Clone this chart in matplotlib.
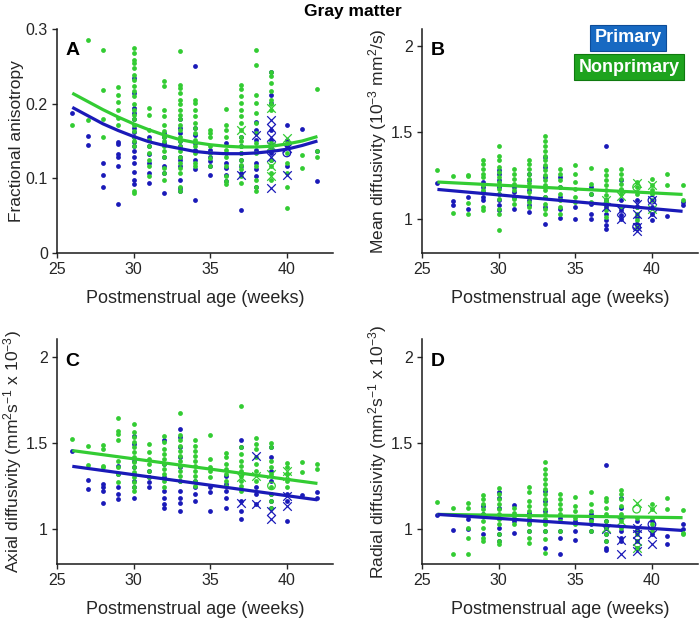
import numpy as np
import matplotlib
matplotlib.use('Agg')
import matplotlib.pyplot as plt

plt.rcParams['font.family'] = ['Liberation Sans', 'DejaVu Sans']
plt.rcParams['mathtext.default'] = 'regular'

BLUE = '#1a1ab8'
GREEN = '#33cc33'
TXT = '#262626'

# ---- data: values per postmenstrual week ----
# Panel A: fractional anisotropy
a_green = {26: [.171], 27: [.285, .178], 28: [.272, .218, .180, .156],
           29: [.222, .212, .202, .191, .181, .171],
           30: [.275, .268, .259, .255, .248, .239, .232, .224, .217, .210, .199, .192, .185, .179, .172, .163, .156, .150, .143, .083, .080],
           31: [.194, .185, .165, .152, .143, .134, .125, .116, .103],
           32: [.231, .223, .192, .183, .172, .163, .156, .150, .143, .136, .129, .114, .107, .098],
           33: [.270, .225, .221, .214, .205, .199, .192, .185, .179, .172, .165, .156, .150, .143, .136, .129, .120, .114, .107, .089, .083],
           34: [.205, .201, .192, .183, .174, .167, .161, .152, .143, .134, .121, .116],
           35: [.165, .161, .156, .143, .134, .127, .116],
           36: [.193, .172, .165, .156, .138, .129, .116, .103, .096, .092],
           37: [.225, .219, .210, .201, .192, .183, .174, .165, .156, .150, .143, .134, .125, .118, .112, .103, .094],
           38: [.272, .252, .212, .201, .188, .174, .161, .147, .134, .116, .098, .089, .083],
           39: [.243, .237, .228, .217, .205, .199, .192, .147, .138, .125, .116, .107, .098],
           40: [.147, .134, .121, .107, .089, .060], 41: [.131, .114], 42: [.220, .136, .129]}
a_blue = {26: [.187], 27: [.157, .144], 28: [.120, .104, .088],
          29: [.149, .146, .133, .129, .117, .066],
          30: [.234, .214, .194, .188, .179, .167, .162, .156, .148, .143, .136, .129, .121, .109, .098, .092],
          31: [.156, .143, .132, .121, .107, .094],
          32: [.161, .156, .147, .129, .116, .107, .081],
          33: [.179, .167, .161, .150, .143, .129, .125, .116, .098, .087, .083],
          34: [.251, .167, .158, .147, .138, .125, .112, .071],
          35: [.138, .129, .123, .116, .105],
          36: [.147, .134, .121, .114, .105, .096],
          37: [.156, .143, .134, .125, .116, .107, .058],
          38: [.176, .165, .152, .138, .121, .112, .103, .089],
          39: [.243, .212, .201, .165, .152, .143, .134, .125],
          40: [.172, .152, .143, .116], 41: [.166], 42: [.136, .096]}
a_green_x = {37: [.165], 39: [.194, .143, .116, .103], 40: [.154]}
a_blue_x = {37: [.105], 38: [.158], 39: [.178, .167, .156, .143, .129, .087], 40: [.141, .105]}
a_green_o = {}
a_blue_o = {40: [.134]}
a_fit_weeks = list(range(26, 43))
a_fit_green = [.214, .203, .192, .182, .173, .165, .158, .152, .148, .145, .143, .142, .142, .143, .146, .150, .156]
a_fit_blue = [.195, .184, .173, .164, .156, .149, .144, .140, .136, .134, .133, .133, .134, .136, .139, .144, .150]

# Panel B: mean diffusivity
b_green = {26: [1.279], 27: [1.244, 1.035], 28: [1.254, 1.244, 1.090, 1.029],
           29: [1.337, 1.317, 1.288, 1.260, 1.240, 1.192, 1.163, 1.067, 1.048],
           30: [1.419, 1.365, 1.337, 1.298, 1.269, 1.240, 1.212, 1.192, 1.173, 1.144, 1.115, 1.058, 1.029, 0.933],
           31: [1.288, 1.260, 1.231, 1.202, 1.163, 1.115, 1.087],
           32: [1.342, 1.317, 1.288, 1.260, 1.231, 1.206, 1.183, 1.154, 1.125, 1.096, 1.067],
           33: [1.481, 1.452, 1.423, 1.394, 1.365, 1.337, 1.308, 1.279, 1.250, 1.221, 1.192, 1.163, 1.125, 1.087, 1.058, 1.029],
           34: [1.288, 1.260, 1.221, 1.183, 1.144, 1.106, 1.067, 1.029],
           35: [1.312, 1.260, 1.212, 1.173, 1.125, 1.096],
           36: [1.294, 1.202, 1.144, 1.096],
           37: [1.279, 1.250, 1.221, 1.192, 1.163, 1.135, 1.106, 1.077, 1.048, 1.010],
           38: [1.285, 1.260, 1.231, 1.202, 1.173, 1.144, 1.067],
           39: [1.212, 1.183, 1.144, 1.067, 1.029, 0.990, 0.952],
           40: [1.227, 1.192, 1.163, 1.144, 1.106], 41: [1.256, 1.192], 42: [1.192, 1.110]}
b_blue = {26: [1.208], 27: [1.100, 1.081], 28: [1.125, 1.058],
          29: [1.212, 1.183, 1.154, 1.125, 1.106],
          30: [1.279, 1.260, 1.221, 1.183, 1.144, 1.106, 1.077, 1.048],
          31: [1.183, 1.154, 1.125, 1.058],
          32: [1.260, 1.221, 1.163, 1.106, 1.077, 1.038],
          33: [1.356, 1.298, 1.240, 1.183, 1.125, 1.067, 0.971],
          34: [1.240, 1.183, 1.125, 1.058, 1.006],
          35: [1.067, 1.0], 36: [1.183, 1.144, 1.087, 1.029, 1.0],
          37: [1.423, 1.106, 1.067, 1.029, 0.990, 0.962, 0.942],
          38: [1.221, 1.163, 1.106, 1.048, 1.019, 1.0],
          39: [1.106, 1.067, 1.010, 0.971],
          40: [1.067, 1.029, 0.990], 41: [1.013], 42: [1.096, 1.077]}
b_green_x = {37: [1.106], 38: [1.129], 39: [1.206], 40: [1.192, 1.058]}
b_blue_x = {37: [1.067], 38: [1.048, 1.0], 39: [1.087, 1.029, 0.952, 0.927], 40: [1.106, 1.029]}
b_green_o = {39: [1.183]}
b_blue_o = {39: [0.952], 40: [1.106]}
b_fit_weeks = [26, 42]
b_fit_green = [1.212, 1.140]
b_fit_blue = [1.169, 1.042]

# Panel C: axial diffusivity
c_green = {26: [1.524], 27: [1.482, 1.375], 28: [1.491, 1.466, 1.369, 1.359],
           29: [1.647, 1.569, 1.553, 1.515, 1.398, 1.359, 1.320, 1.272],
           30: [1.612, 1.563, 1.534, 1.505, 1.476, 1.447, 1.417, 1.388, 1.359, 1.330, 1.301, 1.272, 1.243, 1.223],
           31: [1.495, 1.447, 1.408, 1.379, 1.340, 1.301],
           32: [1.538, 1.505, 1.466, 1.437, 1.408, 1.379, 1.350, 1.320, 1.282, 1.243],
           33: [1.676, 1.544, 1.515, 1.485, 1.456, 1.427, 1.398, 1.369, 1.340, 1.311, 1.282],
           34: [1.515, 1.485, 1.456, 1.427, 1.398, 1.369, 1.340, 1.311, 1.282, 1.252],
           35: [1.544, 1.408, 1.359, 1.340, 1.301],
           36: [1.441, 1.417, 1.379, 1.350, 1.320, 1.282, 1.252],
           37: [1.715, 1.476, 1.437, 1.398, 1.369, 1.340, 1.311, 1.282, 1.252, 1.223],
           38: [1.528, 1.495, 1.466, 1.417, 1.379, 1.340, 1.282],
           39: [1.501, 1.476, 1.398, 1.359, 1.320, 1.243, 1.204, 1.165, 1.126],
           40: [1.384, 1.359, 1.320, 1.282, 1.243], 41: [1.388, 1.330], 42: [1.379, 1.350]}
c_blue = {26: [1.452], 27: [1.287, 1.231], 28: [1.262, 1.243, 1.223, 1.151],
          29: [1.369, 1.320, 1.243, 1.204, 1.175],
          30: [1.538, 1.495, 1.398, 1.359, 1.320, 1.282, 1.243, 1.184],
          31: [1.340, 1.301, 1.272, 1.243],
          32: [1.515, 1.379, 1.301, 1.223, 1.184, 1.146, 1.126],
          33: [1.583, 1.534, 1.476, 1.417, 1.359, 1.282, 1.223, 1.184, 1.155, 1.107],
          34: [1.282, 1.243, 1.204, 1.165],
          35: [1.243, 1.214, 1.107],
          36: [1.311, 1.262, 1.223, 1.184, 1.126],
          37: [1.515, 1.476, 1.165, 1.107, 1.058],
          38: [1.243, 1.204, 1.146],
          39: [1.476, 1.417, 1.340, 1.282, 1.204, 1.165, 1.126],
          40: [1.204, 1.165, 1.049], 41: [1.200], 42: [1.217, 1.184]}
c_green_x = {37: [1.305], 38: [1.311], 39: [1.320], 40: [1.340, 1.311]}
c_blue_x = {37: [1.155], 38: [1.423, 1.146], 39: [1.107, 1.058], 40: [1.194, 1.136]}
c_green_o = {39: [1.252]}
c_blue_o = {}
c_fit_weeks = [26, 42]
c_fit_green = [1.456, 1.266]
c_fit_blue = [1.365, 1.171]

# Panel D: radial diffusivity
d_green = {26: [1.159], 27: [1.122, 0.860], 28: [1.151, 1.126, 1.006, 0.951, 0.860],
           29: [1.198, 1.175, 1.146, 1.117, 1.087, 1.049, 1.010, 0.951, 0.932],
           30: [1.239, 1.204, 1.175, 1.146, 1.117, 1.087, 1.058, 1.029, 0.971, 0.932, 0.913],
           31: [1.126, 1.097, 1.068, 1.029],
           32: [1.243, 1.214, 1.165, 1.136, 1.107, 1.068, 1.029, 0.990, 0.951, 0.922],
           33: [1.388, 1.350, 1.320, 1.291, 1.262, 1.233, 1.204, 1.175, 1.146, 1.117, 1.087, 1.058, 1.029, 0.990, 0.942, 0.864],
           34: [1.204, 1.175, 1.146, 1.117, 1.087, 1.049, 0.990],
           35: [1.188, 1.136, 1.107, 1.068, 1.029],
           36: [1.217, 1.146, 1.107, 1.049, 0.990],
           37: [1.184, 1.165, 1.126, 1.087, 1.049, 1.010, 0.971, 0.932],
           38: [1.227, 1.204, 1.175, 1.136, 1.087, 1.049, 1.010],
           39: [1.068, 1.010, 0.971, 0.932, 0.893],
           40: [1.146, 1.117, 1.068, 1.029, 0.990], 41: [1.184, 1.117], 42: [1.111, 0.981, 0.971]}
d_blue = {26: [1.083], 27: [0.998], 28: [1.058, 1.0],
          29: [1.136, 1.087, 0.971],
          30: [1.214, 1.184, 1.126, 1.068, 1.010, 0.971, 0.932],
          31: [1.142, 1.049, 0.981],
          32: [1.097, 1.039, 0.990],
          33: [1.223, 1.165, 1.107, 1.049, 0.990, 0.893],
          34: [1.068, 0.990, 0.951, 0.860],
          35: [1.049, 0.990, 0.938],
          36: [1.087, 1.058, 1.029, 0.990],
          37: [1.375, 1.049, 1.010, 0.971, 0.932, 0.893, 0.883],
          38: [1.184, 1.126, 1.068, 0.990, 0.951, 0.932],
          39: [1.049, 0.990, 0.932, 0.893],
          40: [1.049, 1.010, 0.971], 41: [0.961, 0.917], 42: [1.033, 1.0]}
d_green_x = {37: [1.010], 38: [1.049], 39: [1.150, 0.893], 40: [1.117]}
d_blue_x = {37: [1.0], 38: [0.936, 0.860], 39: [1.010, 0.971, 0.932, 0.874], 40: [0.971, 0.913]}
d_green_o = {39: [1.117]}
d_blue_o = {40: [1.029]}
d_fit_weeks = [26, 42]
d_fit_green = [1.087, 1.068]
d_fit_blue = [1.087, 0.994]

x_ticks = [25, 30, 35, 40]
xlabel = 'Postmenstrual age (weeks)'


def flat(d):
    xs, ys = [], []
    for wk, vals in d.items():
        xs += [wk] * len(vals)
        ys += vals
    return np.array(xs), np.array(ys)


fig = plt.figure(figsize=(7.0, 6.18), dpi=100)

panels = [
    ('A', [0.0814, 0.5906, 0.394, 0.3625], (0, 0.3), [0, 0.1, 0.2, 0.3], ['0', '0.1', '0.2', '0.3'],
     'Fractional anisotropy',
     a_green, a_blue, a_green_x, a_blue_x, a_green_o, a_blue_o, a_fit_weeks, a_fit_green, a_fit_blue),
    ('B', [0.603, 0.5906, 0.394, 0.3625], (0.8, 2.1), [1, 1.5, 2], ['1', '1.5', '2'],
     'Mean diffusivity (10$^{-3}$ mm$^{2}$/s)',
     b_green, b_blue, b_green_x, b_blue_x, b_green_o, b_blue_o, b_fit_weeks, b_fit_green, b_fit_blue),
    ('C', [0.0814, 0.0874, 0.394, 0.3636], (0.8, 2.1), [1, 1.5, 2], ['1', '1.5', '2'],
     'Axial diffusivity (mm$^{2}$s$^{-1}$ x 10$^{-3}$)',
     c_green, c_blue, c_green_x, c_blue_x, c_green_o, c_blue_o, c_fit_weeks, c_fit_green, c_fit_blue),
    ('D', [0.603, 0.0874, 0.394, 0.3636], (0.8, 2.1), [1, 1.5, 2], ['1', '1.5', '2'],
     'Radial diffusivity (mm$^{2}$s$^{-1}$ x 10$^{-3}$)',
     d_green, d_blue, d_green_x, d_blue_x, d_green_o, d_blue_o, d_fit_weeks, d_fit_green, d_fit_blue),
]

for (letter, pos, ylim, yt, ytl, ylab, g, b, gx, bx, go, bo, fw, fg, fb) in panels:
    ax = fig.add_axes(pos)
    x, y = flat(b)
    ax.scatter(x, y, s=12, color=BLUE, linewidths=0, zorder=2)
    x, y = flat(g)
    ax.scatter(x, y, s=12, color=GREEN, linewidths=0, zorder=2)
    x, y = flat(bx)
    ax.scatter(x, y, s=38, marker='x', color=BLUE, linewidths=0.9, zorder=3)
    x, y = flat(gx)
    ax.scatter(x, y, s=38, marker='x', color=GREEN, linewidths=0.9, zorder=3)
    if bo:
        x, y = flat(bo)
        ax.scatter(x, y, s=30, marker='o', facecolors='none', edgecolors=BLUE, linewidths=0.9, zorder=3)
    if go:
        x, y = flat(go)
        ax.scatter(x, y, s=30, marker='o', facecolors='none', edgecolors=GREEN, linewidths=0.9, zorder=3)
    ax.plot(fw, fg, color=GREEN, lw=2.3, zorder=4, solid_capstyle='butt')
    ax.plot(fw, fb, color=BLUE, lw=2.3, zorder=4, solid_capstyle='butt')

    ax.set_xlim(25, 43)
    ax.set_ylim(*ylim)
    ax.set_xticks(x_ticks)
    ax.set_yticks(yt)
    ax.set_yticklabels(ytl)
    for s in ['top', 'right']:
        ax.spines[s].set_visible(False)
    for s in ['left', 'bottom']:
        ax.spines[s].set_linewidth(1.1)
        ax.spines[s].set_color('#1a1a1a')
    ax.tick_params(direction='out', length=3.5, width=1.0, labelsize=11.5, colors=TXT, pad=3)
    ax.set_xlabel(xlabel, fontsize=13, color=TXT, labelpad=9)
    ax.set_ylabel(ylab, fontsize=12.5, color=TXT, labelpad=1)
    ax.text(0.03, 0.94, letter, transform=ax.transAxes, fontsize=14, fontweight='bold',
            va='top', ha='left', color='black')

fig.text(0.504, 0.982, 'Gray matter', ha='center', va='center', fontsize=12.5, fontweight='bold')

# legend boxes
fig.text(0.897, 0.939, 'Primary', ha='center', va='center', fontsize=13, fontweight='bold', color='white',
         bbox=dict(boxstyle='square,pad=0.25', fc='#1769c2', ec='#0d4c98', lw=0.8))
fig.text(0.899, 0.891, 'Nonprimary', ha='center', va='center', fontsize=13, fontweight='bold', color='white',
         bbox=dict(boxstyle='square,pad=0.25', fc='#1ea31e', ec='#0f7a0f', lw=0.8))

fig.savefig('out.png', dpi=100)
